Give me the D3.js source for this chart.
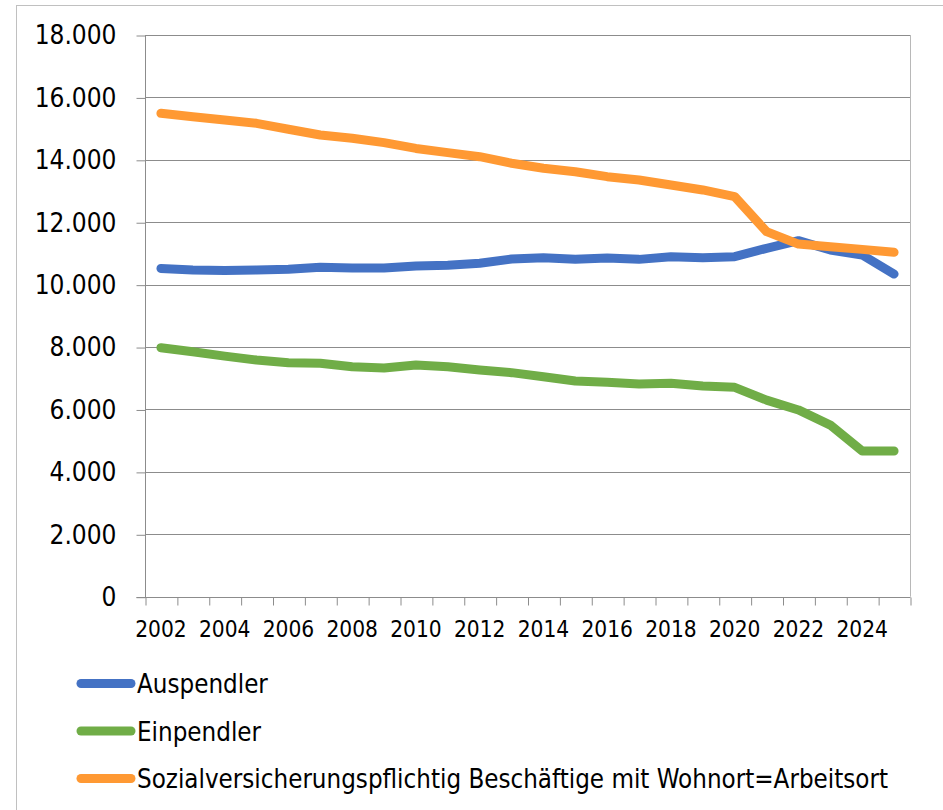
<html>
<head>
<meta charset="utf-8">
<style>
    body { margin: 0; background: #fff; }
    svg text { font-family: "DejaVu Sans Condensed", "DejaVu Sans", sans-serif; font-stretch: condensed; fill: #000; }
    .grid line { stroke: #8c8c8c; stroke-width: 1px; }
    .axis path, .axis line { stroke: #8c8c8c; }
    .line { fill: none; stroke-width: 9px; stroke-linejoin: round; stroke-linecap: round; }
</style>
</head>
<body>
<svg id="chart" width="943" height="810"></svg>
<script src="https://cdn.jsdelivr.net/npm/d3@7"></script>
<script>
    // years on the category axis
    let years = d3.range(2002, 2026)

    let auspendler = [10520, 10470, 10450, 10470, 10490, 10555, 10535, 10535, 10600, 10620,
                      10685, 10820, 10860, 10810, 10850, 10810, 10895, 10865, 10895, 11165,
                      11410, 11110, 10950, 10340]

    let einpendler = [7980, 7850, 7710, 7585, 7500, 7480, 7370, 7330, 7425, 7370,
                      7265, 7180, 7050, 6910, 6870, 6815, 6840, 6750, 6710, 6300,
                      5985, 5500, 4670, 4670]

    let wohnortArbeitsort = [15490, 15380, 15275, 15170, 14980, 14795, 14690, 14550, 14365, 14230,
                             14100, 13890, 13730, 13620, 13460, 13355, 13195, 13035, 12820, 11700,
                             11300, 11215, 11130, 11035]

    let seriesNames = ["Auspendler", "Einpendler",
                       "Sozialversicherungspflichtig Beschäftige mit Wohnort=Arbeitsort"]
    let yTicks = d3.range(0, 18001, 2000)
    let xLabels = years.filter(y => y % 2 == 0)

    let colors = ["#4472c4", "#70ad47", "#ff9933"]
    let series = [auspendler, einpendler, wohnortArbeitsort]

    let svg = d3.select("#chart")

    // outer border of the chart (top and left only visible)
    svg.append("line").attr("x1", 16).attr("x2", 943).attr("y1", 5.5).attr("y2", 5.5)
        .attr("stroke", "#c0c0c0")
    svg.append("line").attr("x1", 16.5).attr("x2", 16.5).attr("y1", 5).attr("y2", 810)
        .attr("stroke", "#c0c0c0")

    let plotLeft = 145, plotRight = 910, plotTop = 35, plotBottom = 596.7

    let xScale = d3.scaleBand()
        .domain(years)
        .range([plotLeft, plotRight])
        .padding(0)

    let xEdges = d3.scaleLinear()
        .domain([0, years.length])
        .range([plotLeft, plotRight])

    let yScale = d3.scaleLinear()
        .domain([0, 18000])
        .range([plotBottom, plotTop])

    let de = d3.formatLocale({decimal: ",", thousands: ".", grouping: [3], currency: ["", " €"]})

    // horizontal gridlines
    svg.append("g")
        .attr("class", "grid")
        .selectAll("line")
        .data(yTicks.filter(d => d > 0))
        .enter().append("line")
        .attr("x1", plotLeft).attr("x2", plotRight)
        .attr("y1", d => Math.round(yScale(d)) + 0.5)
        .attr("y2", d => Math.round(yScale(d)) + 0.5)

    // right edge of plot area
    svg.append("line")
        .attr("x1", plotRight + 0.5).attr("x2", plotRight + 0.5)
        .attr("y1", plotTop).attr("y2", plotBottom)
        .attr("stroke", "#b8b8b8")

    // y axis
    let yAxis = svg.append("g")
        .attr("class", "axis")
        .attr("transform", `translate(${plotLeft + 0.5}, 0.5)`)
        .call(d3.axisLeft(yScale)
            .tickValues(yTicks)
            .tickSize(9)
            .tickPadding(20)
            .tickFormat(de.format(",")))
    yAxis.select(".domain").attr("d", `M0,${plotTop}V${plotBottom}`)
    yAxis.selectAll("text").style("font-size", "26px")

    // x axis: tick marks on category edges
    let xAxis = svg.append("g")
        .attr("class", "axis")
        .attr("transform", `translate(0.5, ${Math.round(plotBottom) + 0.5})`)
        .call(d3.axisBottom(xEdges)
            .tickValues(d3.range(years.length + 1))
            .tickSize(8)
            .tickFormat(""))
    xAxis.select(".domain").attr("d", `M${plotLeft - 9},0H${plotRight}`)

    // x labels in category centres
    let xLab = svg.append("g")
        .attr("transform", `translate(0, ${Math.round(plotBottom)})`)
        .call(d3.axisBottom(xScale)
            .tickValues(xLabels)
            .tickSize(0)
            .tickPadding(24))
    xLab.select(".domain").remove()
    xLab.selectAll("text").style("font-size", "22.5px")

    // lines
    let valueline = d3.line()
        .x((d, i) => xScale(years[i]) + xScale.bandwidth() / 2)
        .y(d => yScale(d))

    series.forEach((s, k) => {
        svg.append("path")
            .datum(s)
            .attr("class", "line")
            .attr("stroke", colors[k])
            .attr("d", valueline)
    })

    // legend
    let legendY = [683.5, 731, 778.5]
    let legend = svg.append("g")
    seriesNames.forEach((name, k) => {
        legend.append("line")
            .attr("x1", 81).attr("x2", 131)
            .attr("y1", legendY[k]).attr("y2", legendY[k])
            .attr("stroke", colors[k])
            .attr("stroke-width", 9)
            .attr("stroke-linecap", "round")
        legend.append("text")
            .attr("x", 137)
            .attr("y", legendY[k] + 9.5)
            .style("font-size", "25.7px")
            .text(name)
    })
</script>
</body>
</html>
